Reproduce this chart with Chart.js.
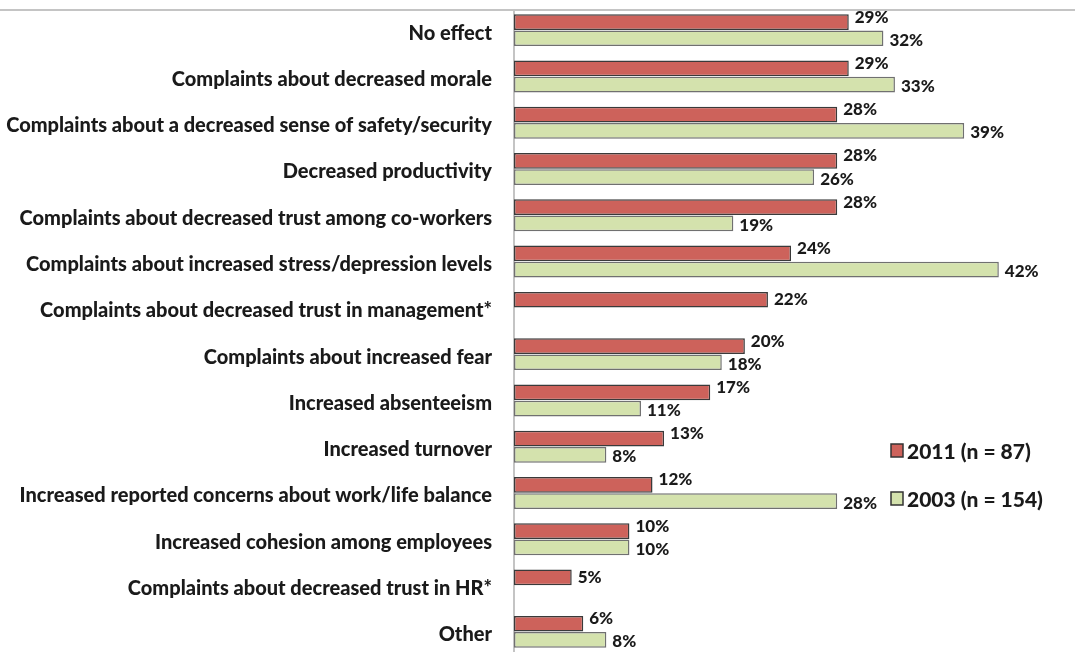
<!DOCTYPE html>
<html>
<head>
<meta charset="utf-8">
<script src="https://cdn.jsdelivr.net/npm/chart.js@4/dist/chart.umd.min.js"></script>
<style>
  body { margin: 0; background: #fff; overflow: hidden; }
  #wrap { position: relative; width: 1075px; height: 660px; }
</style>
</head>
<body>
<div id="wrap"><canvas id="chart_effects"></canvas></div>
<script>
const categories = [
    "No effect",
    "Complaints about decreased morale",
    "Complaints about a decreased sense of safety/security",
    "Decreased productivity",
    "Complaints about decreased trust among co-workers",
    "Complaints about increased stress/depression levels",
    "Complaints about decreased trust in management*",
    "Complaints about increased fear",
    "Increased absenteeism",
    "Increased turnover",
    "Increased reported concerns about work/life balance",
    "Increased cohesion among employees",
    "Complaints about decreased trust in HR*",
    "Other",
];
const values2011 = [29, 29, 28, 28, 28, 24, 22, 20, 17, 13, 12, 10, 5, 6];
const values2003 = [32, 33, 39, 26, 19, 42, null, 18, 11, 8, 28, 10, null, 8];
const seriesLabels = ["2011 (n = 87)", "2003 (n = 154)"];

const FONT = "Lato, 'Open Sans', sans-serif";
const RED = "#cd625b";
const GREEN = "#d4e2ad";

// value labels at the end of each bar
const barLabels = {
    id: "barLabels",
    afterDatasetsDraw(chart) {
        const ctx = chart.ctx;
        ctx.save();
        ctx.font = "900 17px " + FONT;
        ctx.fillStyle = "#1a1a1a";
        ctx.textBaseline = "middle";
        chart.data.datasets.forEach((ds, di) => {
            chart.getDatasetMeta(di).data.forEach((bar, i) => {
                const v = ds.data[i];
                if (v === null) return;
                const paired = values2003[i] !== null;
                let dy = 0;
                if (paired) dy = di === 0 ? -5 : 2;
                ctx.fillText(v + "%", bar.x + 6, bar.y + dy);
            });
        });
        ctx.restore();
    },
};

// top rule, axis line and legend boxes
const frame = {
    id: "frame",
    beforeDatasetsDraw(chart) {
        const ctx = chart.ctx;
        const area = chart.chartArea;
        ctx.save();
        ctx.strokeStyle = "#c4c4c4";
        ctx.lineWidth = 2;
        ctx.beginPath();
        ctx.moveTo(0, 10);
        ctx.lineTo(1075, 10);
        ctx.moveTo(area.left, 10);
        ctx.lineTo(area.left, chart.height);
        ctx.stroke();
        ctx.restore();
    },
    afterDraw(chart) {
        const ctx = chart.ctx;
        ctx.save();
        ctx.font = "900 21px " + FONT;
        ctx.textBaseline = "middle";
        const rows = [[RED, 451], [GREEN, 499]];
        rows.forEach(([color, y], i) => {
            ctx.fillStyle = color;
            ctx.strokeStyle = "#333";
            ctx.lineWidth = 1.5;
            ctx.fillRect(891, y - 7, 12, 13);
            ctx.strokeRect(891, y - 7, 12, 13);
            ctx.fillStyle = "#1a1a1a";
            ctx.fillText(seriesLabels[i], 907, y + 1);
        });
        ctx.restore();
    },
};

new Chart(document.getElementById("chart_effects"), {
    type: "bar",
    data: {
        labels: categories,
        datasets: [
            {
                label: seriesLabels[0],
                data: values2011,
                backgroundColor: RED,
                borderColor: "#3a3a3a",
                borderWidth: 1.5,
                borderSkipped: false,
                categoryPercentage: 0.7,
                barPercentage: 0.97,
            },
            {
                label: seriesLabels[1],
                data: values2003,
                backgroundColor: GREEN,
                borderColor: "#707070",
                borderWidth: 1.5,
                borderSkipped: false,
                categoryPercentage: 0.7,
                barPercentage: 0.97,
            },
        ],
    },
    options: {
        indexAxis: "y",
        responsive: true,
        maintainAspectRatio: false,
        animation: false,
        layout: { padding: { top: 7, right: 30, bottom: 5, left: 0 } },
        plugins: {
            legend: { display: false },
            tooltip: { enabled: false },
        },
        scales: {
            x: {
                display: false,
                min: 0,
                max: 46,
            },
            y: {
                afterFit: (scale) => {
                    scale.width = 514;
                    scale.paddingTop = 0;
                    scale.paddingBottom = 0;
                },
                grid: { display: false, drawTicks: false },
                border: { display: false },
                ticks: {
                    padding: 22,
                    labelOffset: 3,
                    color: "#1a1a1a",
                    font: { family: FONT, size: 20, weight: "900" },
                },
            },
        },
    },
    plugins: [barLabels, frame],
});
</script>
</body>
</html>
